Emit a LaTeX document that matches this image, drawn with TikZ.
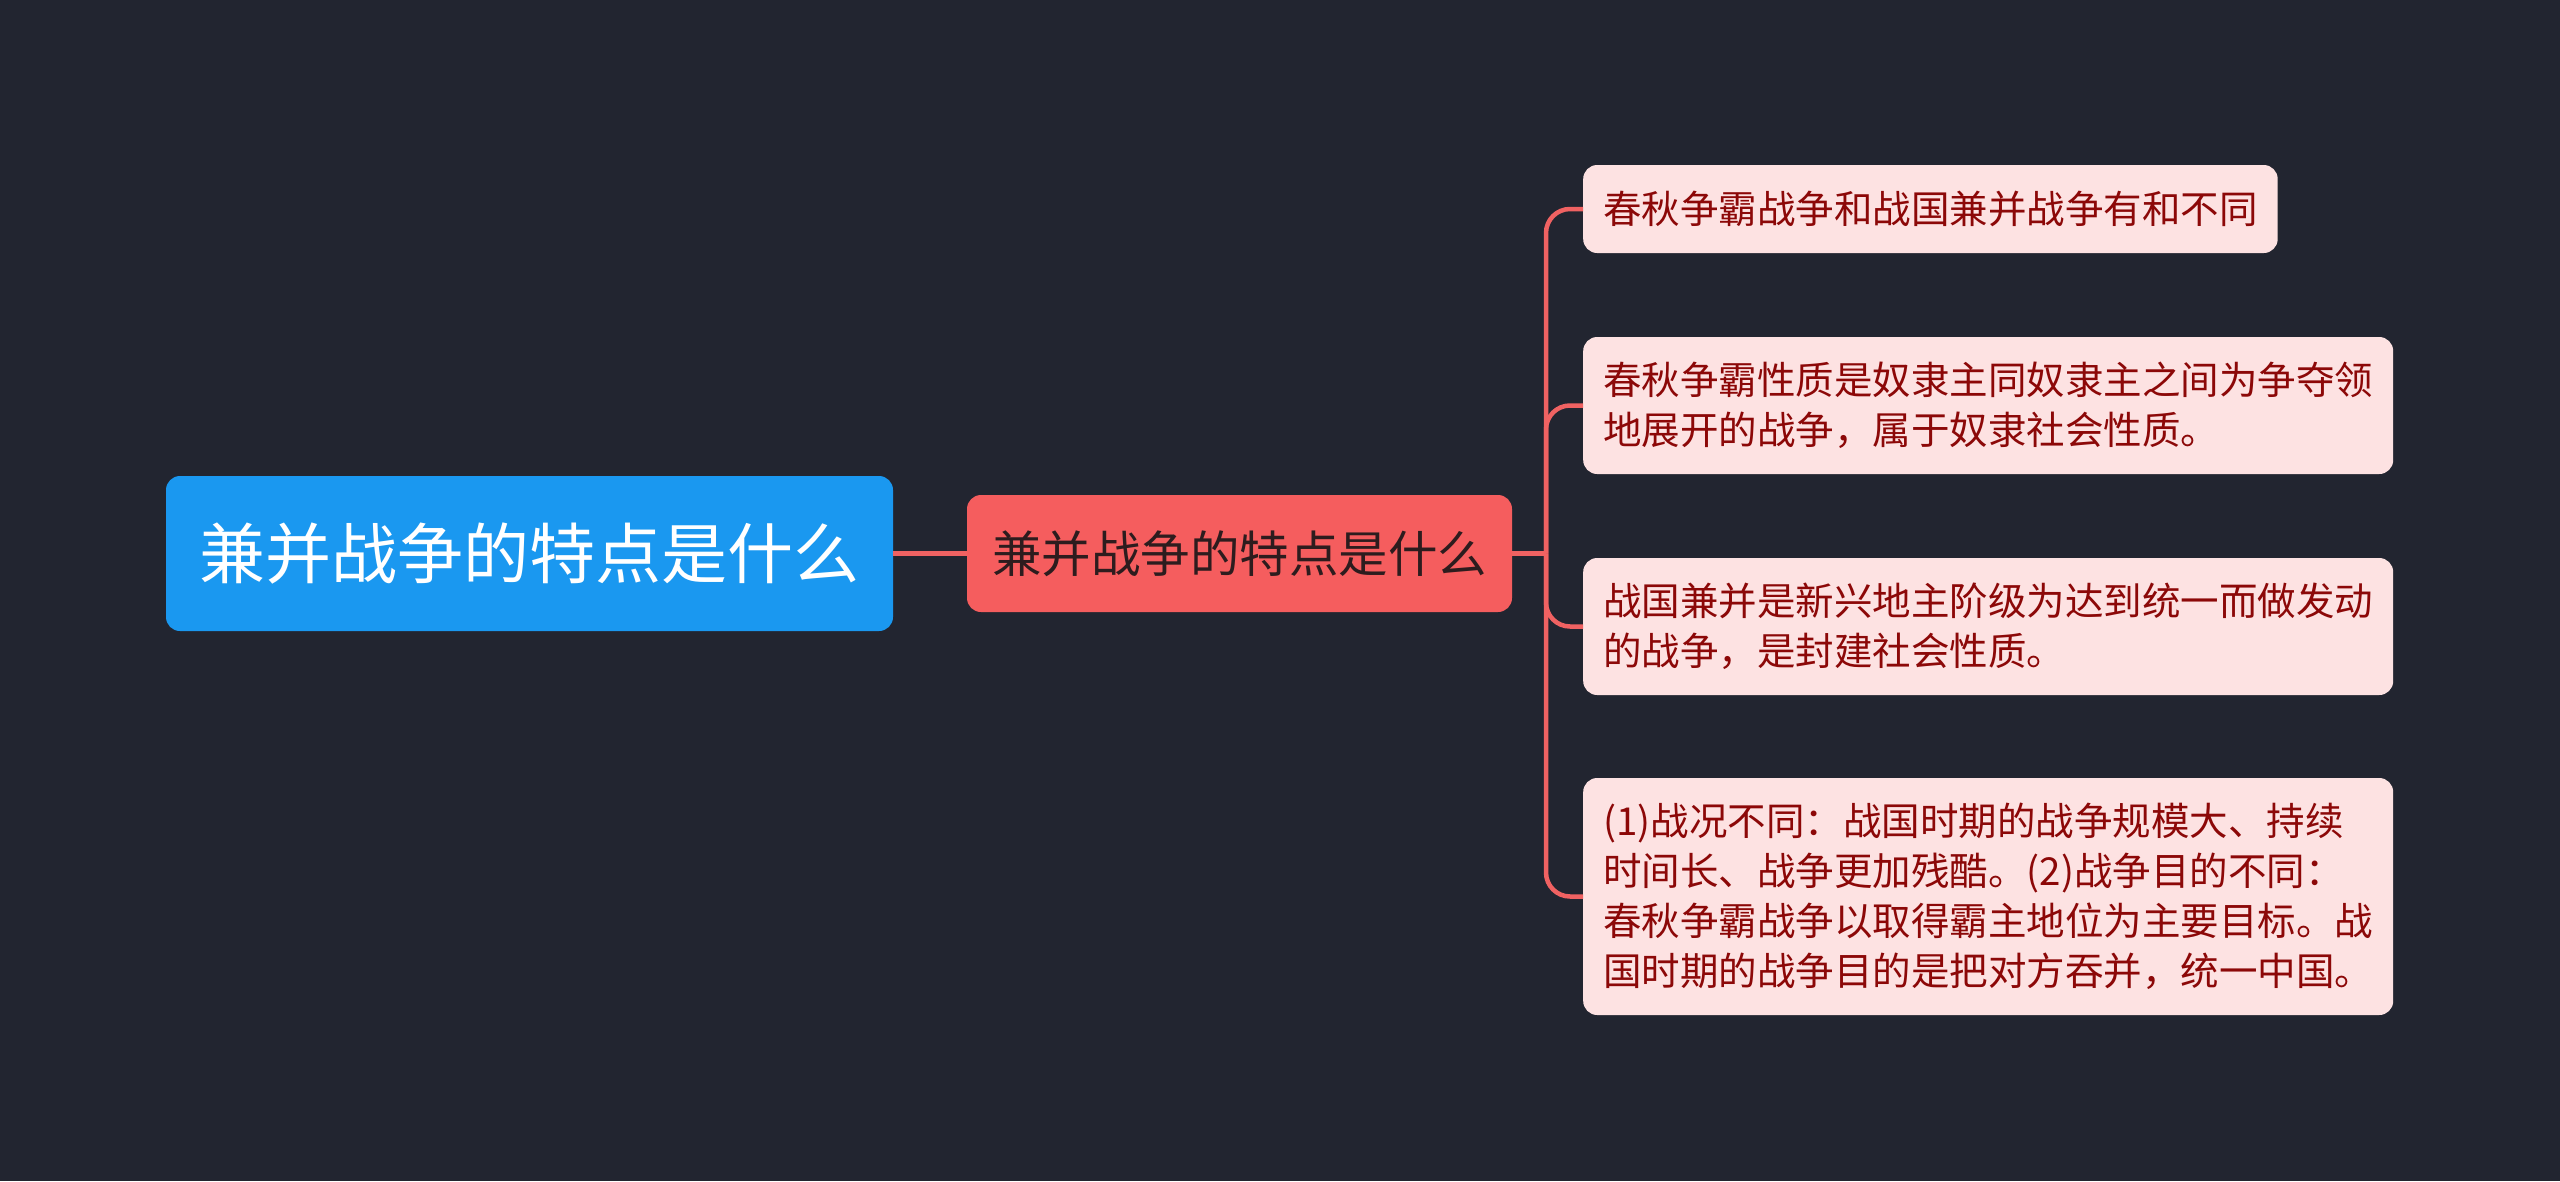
\documentclass[tikz,border=0pt]{standalone}
\usepackage{fontspec}
\setmainfont{Noto Sans CJK SC}
\usetikzlibrary{positioning}

\definecolor{bgdark}{RGB}{34,37,48}
\definecolor{rootblue}{RGB}{26,152,240}
\definecolor{topicred}{RGB}{245,93,94}
\definecolor{topictext}{RGB}{45,28,30}
\definecolor{leafpink}{RGB}{253,226,226}
\definecolor{leaftext}{RGB}{140,8,8}
\definecolor{linkred}{RGB}{240,98,98}

\begin{document}
\begin{tikzpicture}[
        x=1pt, y=-1pt,
        root/.style={rectangle, fill=rootblue, text=white, rounded corners=14pt, minimum width=727pt, minimum height=155pt, inner sep=0pt, font=\fontsize{66pt}{72pt}\selectfont},
        topic/.style={rectangle, fill=topicred, text=topictext, rounded corners=14pt, minimum width=545pt, minimum height=117pt, inner sep=0pt, font=\fontsize{49.5pt}{56pt}\selectfont},
        leaf/.style={rectangle, fill=leafpink, text=leaftext, rounded corners=14pt, anchor=west, align=left, inner xsep=20pt, inner ysep=0pt, font=\fontsize{38.5pt}{50pt}\selectfont},
        link/.style={draw=linkred, line width=4.5pt, rounded corners=24pt}
    ]
        \fill[bgdark] (0,0) rectangle (2560,1181);
        \useasboundingbox (0,0) rectangle (2560,1181);

        \node[root] (root) at (529.5,553.5) {兼并战争的特点是什么};
        \node[topic] (topic) at (1239.5,553.5) {兼并战争的特点是什么};
        \node[leaf, minimum height=88pt] (leafa) at (1583,209) {春秋争霸战争和战国兼并战争有和不同};
        \node[leaf, minimum height=137pt] (leafb) at (1583,405.5) {春秋争霸性质是奴隶主同奴隶主之间为争夺领\\地展开的战争，属于奴隶社会性质。};
        \node[leaf, minimum height=137pt] (leafc) at (1583,626.5) {战国兼并是新兴地主阶级为达到统一而做发动\\的战争，是封建社会性质。};
        \node[leaf, minimum height=237pt] (leafd) at (1583,896.5) {(1)战况不同：战国时期的战争规模大、持续\\时间长、战争更加残酷。(2)战争目的不同：\\春秋争霸战争以取得霸主地位为主要目标。战\\国时期的战争目的是把对方吞并，统一中国。};
        \coordinate (trunk) at (1546,553.5);

        \draw[link] (root) -- (topic);
        \draw[link] (topic.east) -- (trunk);
        \draw[link] (trunk) |- (leafa.west);
        \draw[link] (trunk) |- (leafb.west);
        \draw[link] (trunk) |- (leafc.west);
        \draw[link] (trunk) |- (leafd.west);
    \end{tikzpicture}
\end{document}
